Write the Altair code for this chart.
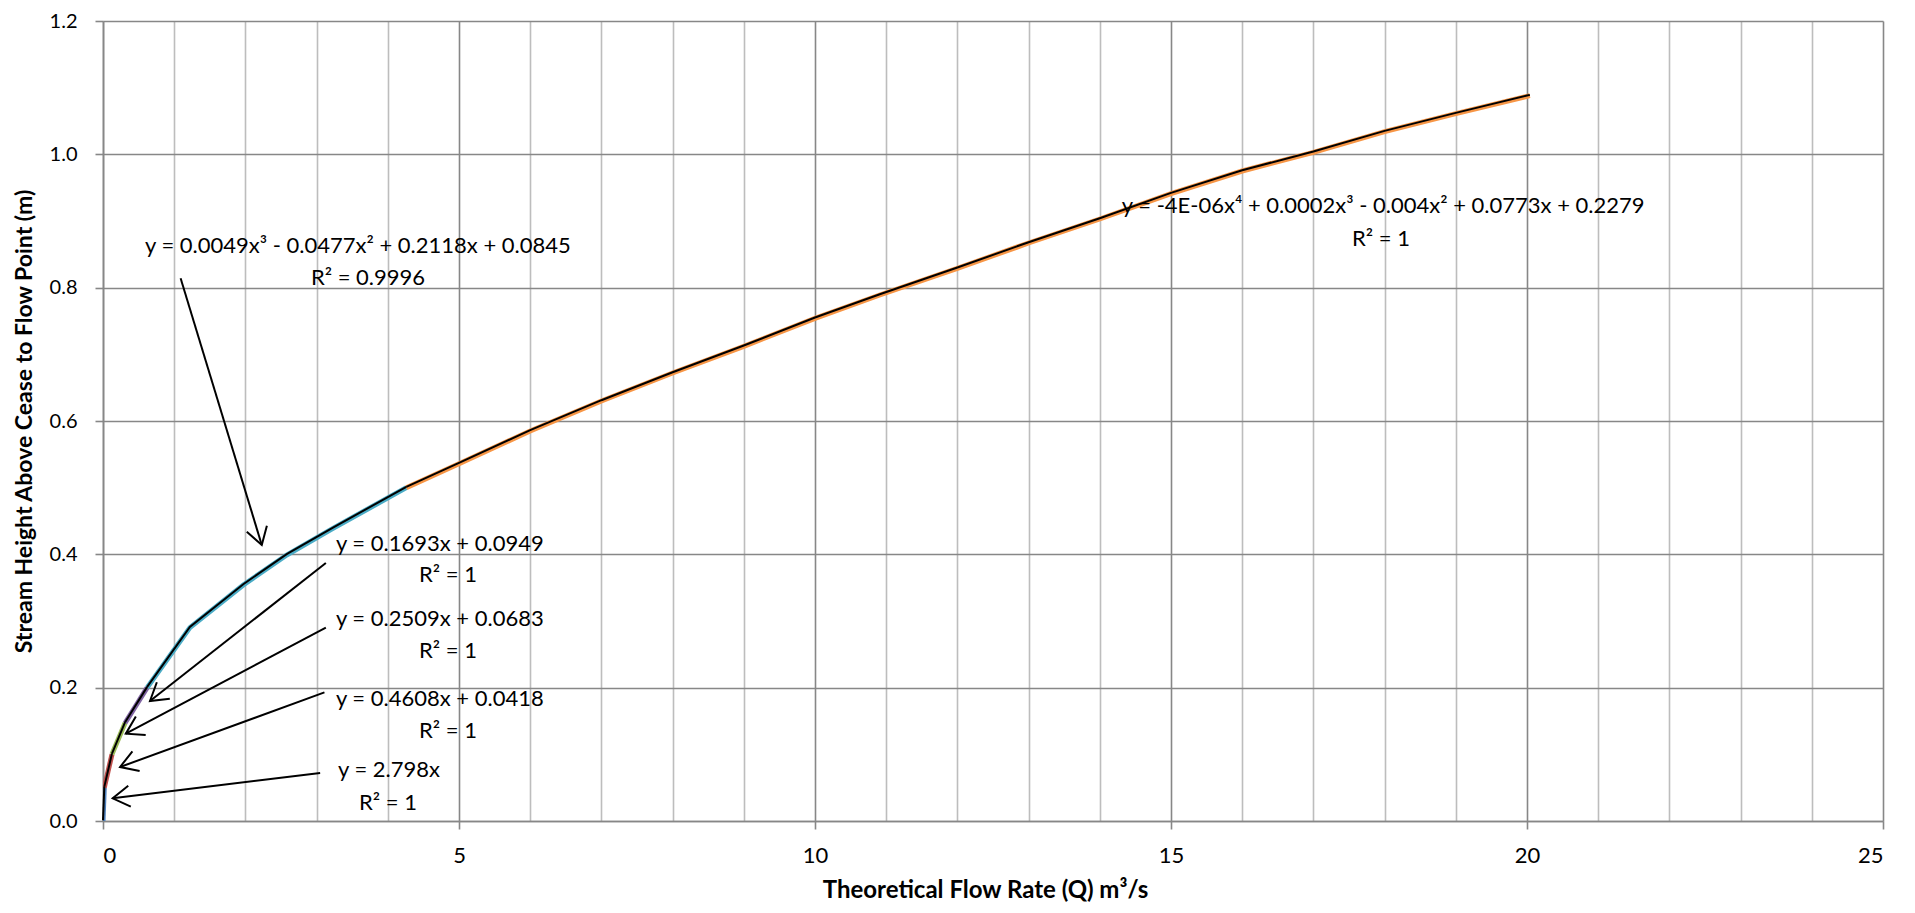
import math
import altair as alt
import pandas as pd

# ---------------- data ----------------
series_names = ["s1", "s2", "s3", "s4", "s5", "s6"]
series_colors = ["#4F81BD", "#C0504D", "#9BBB59", "#8064A2", "#4BACC6", "#F79646"]

s1_x = [0.0, 0.018]
s1_y = [0.0, 0.05]
s2_x = [0.018, 0.126]
s2_y = [0.05, 0.10]
s3_x = [0.126, 0.31]
s3_y = [0.10, 0.147]
s4_x = [0.31, 0.62]
s4_y = [0.147, 0.20]
s5_x = [0.62, 1.22, 1.97, 2.58, 3.23, 4.26]
s5_y = [0.20, 0.29, 0.354, 0.399, 0.439, 0.50]
s6_x = [4.26, 5, 6, 7, 8, 9, 10, 10.91, 12, 13, 14, 15, 16, 17, 18, 19, 20, 20.04]
s6_y = [0.50, 0.536, 0.585, 0.630, 0.672, 0.712, 0.754, 0.789, 0.829, 0.867,
        0.903, 0.941, 0.975, 1.003, 1.034, 1.061, 1.087, 1.088]

# trendline equation labels (text, x, y in data units)
label_text = [
    "y = 0.0049x³ - 0.0477x² + 0.2118x + 0.0845", "R² = 0.9996",
    "y = -4E-06x⁴ + 0.0002x³ - 0.004x² + 0.0773x + 0.2279", "R² = 1",
    "y = 0.1693x + 0.0949", "R² = 1",
    "y = 0.2509x + 0.0683", "R² = 1",
    "y = 0.4608x + 0.0418", "R² = 1",
    "y = 2.798x", "R² = 1",
]
label_x = [3.58, 3.722, 17.98, 17.95, 4.73, 4.846, 4.73, 4.846, 4.73, 4.846, 4.017, 4.003]
label_y = [0.8632, 0.8139, 0.9227, 0.8735, 0.4159, 0.3697, 0.3026, 0.2549,
           0.1834, 0.1357, 0.076, 0.0268]

# arrows (start -> tip, data units)
arrow_x0 = [1.09, 3.13, 3.13, 3.11, 3.05]
arrow_y0 = [0.814, 0.387, 0.290, 0.193, 0.072]
arrow_x1 = [2.23, 0.66, 0.32, 0.24, 0.136]
arrow_y1 = [0.414, 0.180, 0.131, 0.081, 0.034]

x_ticks = list(range(0, 26))
y_ticks = [0.0, 0.2, 0.4, 0.6, 0.8, 1.0, 1.2]

# ---------------- layout ----------------
W, H = 1780, 800
XMAX, YMAX = 25, 1.2
FONT = "Lato"

rows = []
for name, xs, ys in zip(series_names,
                        [s1_x, s2_x, s3_x, s4_x, s5_x, s6_x],
                        [s1_y, s2_y, s3_y, s4_y, s5_y, s6_y]):
    for i, (a, b) in enumerate(zip(xs, ys)):
        rows.append({"series": name, "x": a, "y": b, "i": i})
lines_df = pd.DataFrame(rows)

labels_df = pd.DataFrame({"text": label_text, "x": label_x, "y": label_y})

sx, sy = W / XMAX, H / YMAX
angles = []
for a, b, c, d in zip(arrow_x0, arrow_y0, arrow_x1, arrow_y1):
    dx = (c - a) * sx
    dy = -(d - b) * sy
    angles.append(math.degrees(math.atan2(dy, dx)) % 360)
arrows_df = pd.DataFrame({"x0": arrow_x0, "y0": arrow_y0, "x1": arrow_x1,
                          "y1": arrow_y1, "angle": angles})

major_x = "datum.value % 5 === 0"
x_axis = alt.Axis(
    values=x_ticks,
    labelExpr=f"{major_x} ? datum.label : ''",
    format="d",
    grid=True,
    gridColor={"condition": {"test": major_x, "value": "#878787"}, "value": "#BDBDBD"},
    gridWidth=1.6,
    tickColor={"condition": {"test": major_x, "value": "#878787"}, "value": "transparent"},
    tickSize=8, tickWidth=1.6,
    domainColor="#878787", domainWidth=1.6,
    labelFont=FONT, labelFontSize=22, labelColor="black",
    labelBaseline="middle", labelPadding=26,
    title="Theoretical Flow Rate (Q) m³/s",
    titleFont=FONT, titleFontSize=24, titleFontWeight="bold", titleColor="black",
    titleX=W / 2 - 8, titleY=69, titleBaseline="middle", titleAlign="center",
)
y_axis = alt.Axis(
    values=y_ticks, format=".1f", grid=True,
    gridColor="#878787", gridWidth=1.6,
    tickColor="#878787", tickSize=8, tickWidth=1.6,
    domainColor="#878787", domainWidth=1.6,
    labelFont=FONT, labelFontSize=20, labelColor="black", labelPadding=18,
    title="Stream Height Above Cease to Flow Point (m)",
    titleFont=FONT, titleFontSize=23, titleFontWeight="bold", titleColor="black",
    titleX=-79, titleY=H / 2, titleAngle=270, titleBaseline="middle", titleAlign="center",
)
xs_ = alt.Scale(domain=[0, XMAX], nice=False, zero=False)
ys_ = alt.Scale(domain=[0, YMAX], nice=False, zero=False)


def X(f):
    return alt.X(f, type="quantitative", scale=xs_, axis=x_axis)


def Y(f):
    return alt.Y(f, type="quantitative", scale=ys_, axis=y_axis)


colored = alt.Chart(lines_df).mark_line(strokeWidth=5, clip=True).encode(
    x=X("x"), y=Y("y"),
    color=alt.Color("series:N", scale=alt.Scale(domain=series_names, range=series_colors), legend=None),
    order="i:Q",
)
black = alt.Chart(lines_df).mark_line(strokeWidth=2, color="black", yOffset=-0.8).encode(
    x=X("x"), y=Y("y"), detail="series:N", order="i:Q",
)
shafts = alt.Chart(arrows_df).mark_rule(color="black", strokeWidth=2).encode(
    x=X("x0"), y=Y("y0"), x2="x1", y2="y1",
)
heads = alt.Chart(arrows_df).mark_point(
    shape="M -1 -0.62 L 0 0 L -1 0.62", filled=False, color="black",
    strokeWidth=2, size=1150, opacity=1,
).encode(
    x=X("x1"), y=Y("y1"), angle=alt.Angle("angle:Q", scale=None),
)
texts = alt.Chart(labels_df).mark_text(
    font=FONT, fontSize=22, color="black", align="center", baseline="middle",
).encode(x=X("x"), y=Y("y"), text="text:N")

chart = alt.layer(colored, black, shafts, heads, texts).properties(
    width=W, height=H,
    autosize=alt.AutoSizeParams(type="none"),
    padding={"left": 95, "top": 13, "right": 24, "bottom": 84},
).configure_view(stroke=None)

chart.save("out.html", embed_options={"renderer": "svg", "actions": False})
